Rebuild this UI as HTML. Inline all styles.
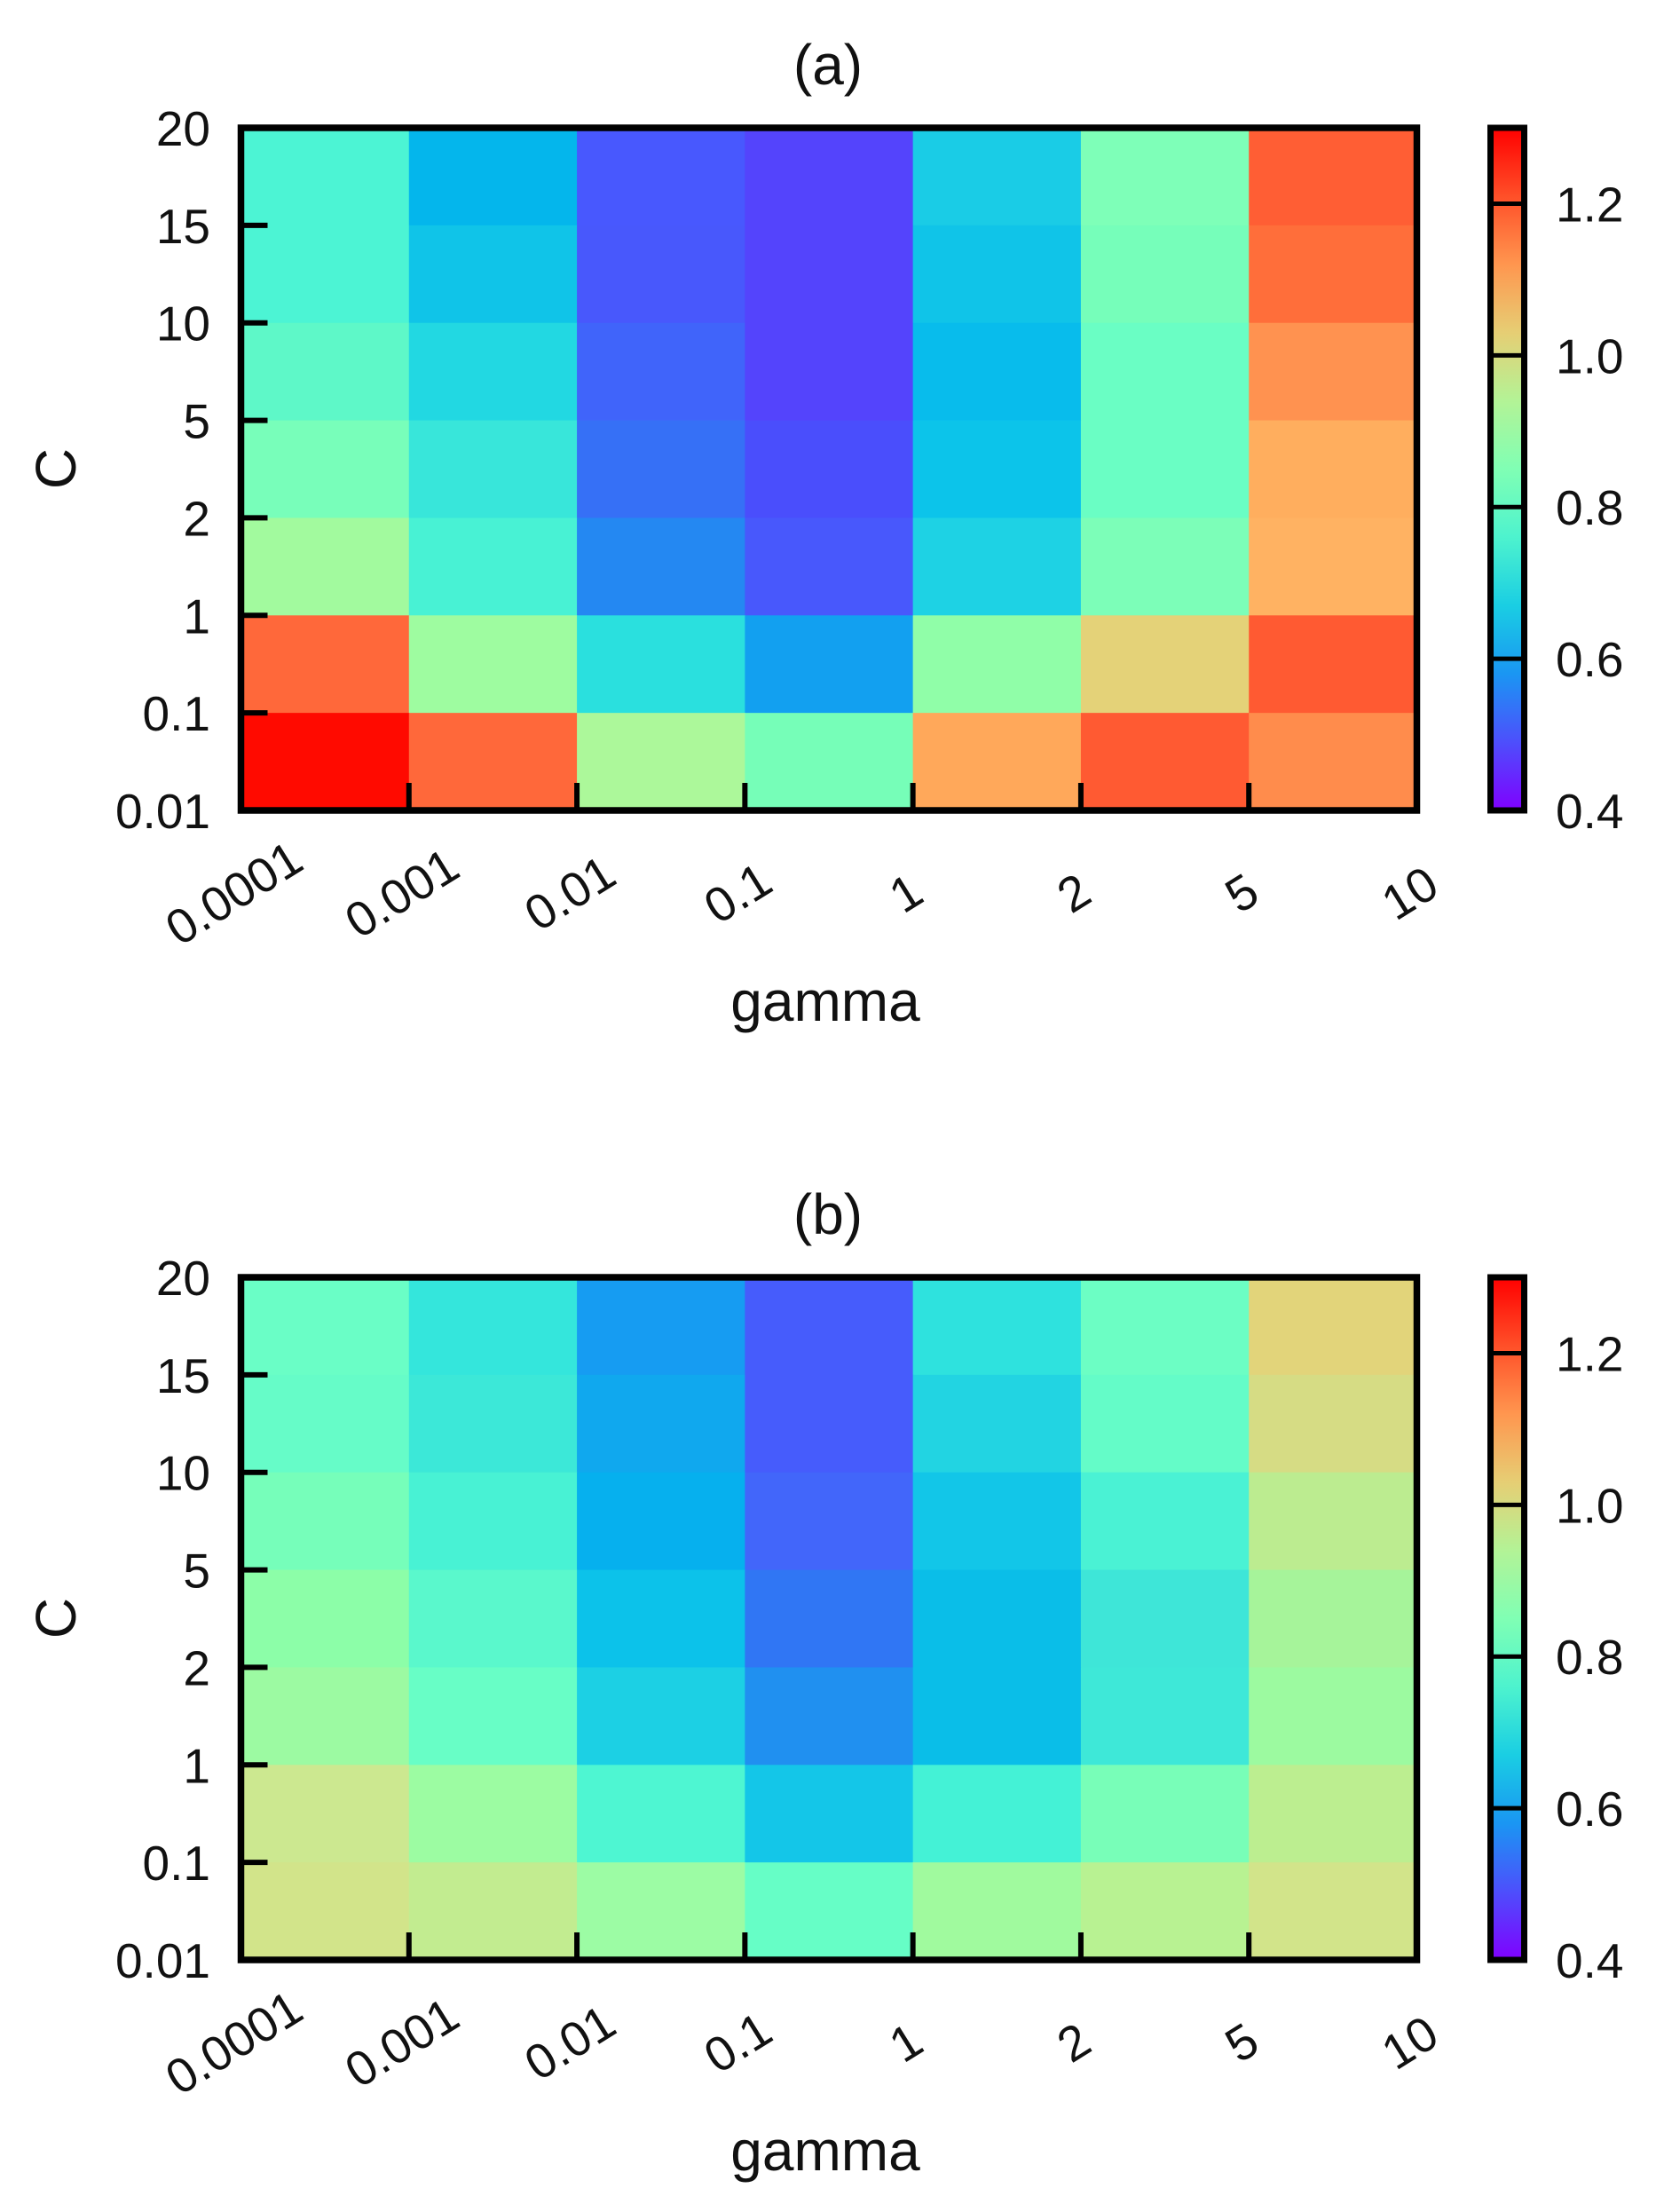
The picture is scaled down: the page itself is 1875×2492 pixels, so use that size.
<!DOCTYPE html>
<html><head><meta charset="utf-8"><style>html,body{margin:0;padding:0;background:#fff}svg{display:block}text{font-family:"Liberation Sans",Arial,sans-serif;fill:#111}</style></head>
<body>
<svg xmlns="http://www.w3.org/2000/svg" width="1875" height="2492" viewBox="0 0 1875 2492">
<defs>
<linearGradient id="cb" x1="0" y1="1" x2="0" y2="0">
<stop offset="0" stop-color="#8000ff"/><stop offset="0.1" stop-color="#4d4ffc"/><stop offset="0.2" stop-color="#1a96f3"/><stop offset="0.3" stop-color="#1acee3"/><stop offset="0.4" stop-color="#4df3ce"/><stop offset="0.5" stop-color="#80ffb4"/><stop offset="0.6" stop-color="#b3f396"/><stop offset="0.7" stop-color="#e6ce74"/><stop offset="0.8" stop-color="#ff964f"/><stop offset="0.9" stop-color="#ff4f28"/><stop offset="1" stop-color="#ff0000"/>
</linearGradient>
</defs>
</svg>
<script>
(function(){
var NS="http://www.w3.org/2000/svg",svg=document.querySelector('svg');
function el(t,a,txt){var e=document.createElementNS(NS,t);for(var k in a)e.setAttribute(k,a[k]);if(txt!=null)e.textContent=txt;svg.appendChild(e);return e;}
var A=[["#4cf4d4","#04b6ec","#4858fe","#5444fc","#1acce6","#7effb8","#ff5e34"],
["#4cf4d4","#10c4e8","#4858fc","#5444fc","#10c4e8","#76feba","#ff6e3a"],
["#5ef8c8","#22d8e2","#4064fa","#5444fc","#08bcec","#6afec4","#ff9250"],
["#78feba","#38e6da","#3670f6","#4a4efc","#0cc4ea","#6afec4","#ffae5e"],
["#a2fa9e","#48f2d4","#2488f2","#4858fc","#1ed2e4","#7cfeb8","#ffb262"],
["#ff683a","#9efca0","#2ae0de","#12a0f0","#90fea8","#e4d278","#ff5a32"],
["#ff0a00","#ff683a","#acf89a","#76feb8","#ffa85a","#ff5a32","#ff8c4c"]];
var B=[["#6afec6","#34e6dc","#169cf2","#465cfc","#2ee2de","#6cfec4","#e2d47a"],
["#66fcc8","#3ce8d8","#10a8ee","#465cfc","#22d4e2","#64fcc8","#d6dc84"],
["#76feba","#48f2d4","#06b0ee","#4266fa","#12c6e8","#4af2d4","#bcec90"],
["#8cfea8","#5af8cc","#0cc2ea","#3076f4","#0abee8","#3ee6d8","#a6f49a"],
["#9cfaa2","#68fec6","#1cd0e4","#2090f0","#0abee8","#3ee8d8","#9cfaa0"],
["#cce890","#9cfca2","#4ef6d2","#14c6e8","#44f2d6","#78feb8","#bcee90"],
["#d2e48a","#c2ec90","#9cfca4","#66fec6","#a0fa9e","#b8f292","#d2e48a"]];
function panel(M,dy,title){
 var x0=271.5,x1=1596.5,y0=144+dy,y1=913+dy,cw=(x1-x0)/7,rh=(y1-y0)/7;
 for(var r=0;r<7;r++)for(var c=0;c<7;c++)el('rect',{x:x0+c*cw,y:y0+r*rh,width:cw+0.6,height:rh+0.6,fill:M[r][c]});
 for(var k=1;k<7;k++){el('line',{x1:x0,x2:x0+30,y1:y0+k*rh,y2:y0+k*rh,stroke:'#000','stroke-width':6});
  el('line',{x1:x0+k*cw,x2:x0+k*cw,y1:y1,y2:y1-31,stroke:'#000','stroke-width':6});}
 el('rect',{x:x0,y:y0,width:x1-x0,height:y1-y0,fill:'none',stroke:'#000','stroke-width':7.5});
 var yl=["20","15","10","5","2","1","0.1","0.01"];
 for(var k=0;k<8;k++)el('text',{x:237,y:y0+k*rh+20,'font-size':55,'text-anchor':'end'},yl[k]);
 var xl=["0.0001","0.001","0.01","0.1","1","2","5","10"];
 for(var k=0;k<8;k++){var cx=x0+k*cw-8,cy=1006+dy;el('text',{x:cx,y:cy+19,'font-size':55,'text-anchor':'middle',transform:'rotate(-32 '+cx+' '+cy+')'},xl[k]);}
 el('text',{x:930,y:1150+dy,'font-size':64,'text-anchor':'middle'},'gamma');
 el('text',{x:0,y:0,'font-size':64,'text-anchor':'middle',transform:'translate(85 '+(528+dy)+') rotate(-90)'},'C');
 el('text',{x:933,y:95+dy,'font-size':64,'text-anchor':'middle'},title);
 el('rect',{x:1679.5,y:y0,width:38,height:y1-y0,fill:'url(#cb)',stroke:'#000','stroke-width':7});
 var cl=[[0.4,"0.4"],[0.6,"0.6"],[0.8,"0.8"],[1.0,"1.0"],[1.2,"1.2"]];
 for(var i=0;i<cl.length;i++){var yy=y1-(cl[i][0]-0.4)/0.9*(y1-y0);
  if(i>0)el('line',{x1:1683,x2:1714,y1:yy,y2:yy,stroke:'#000','stroke-width':5});
  el('text',{x:1753,y:yy+20,'font-size':55},cl[i][1]);}
}
panel(A,0,"(a)");panel(B,1295,"(b)");
})();
</script>
</body></html>
